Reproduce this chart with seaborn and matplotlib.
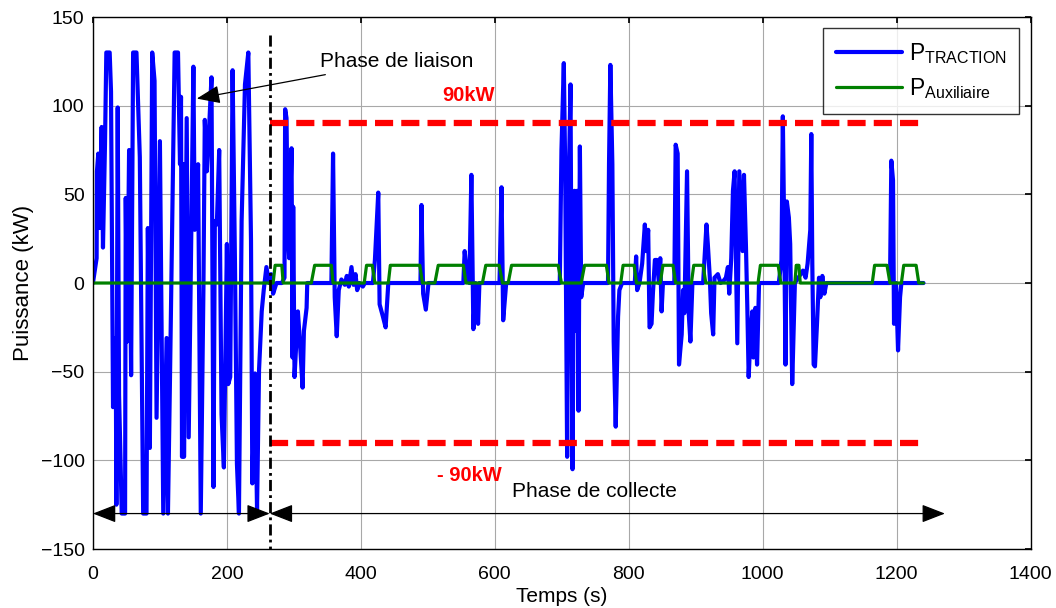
import numpy as np
import pandas as pd
import seaborn as sns
import matplotlib.pyplot as plt

# ==========================================
# DATA
# ==========================================

# phase de liaison, traction power (s, kW)
liaison_t = [0, 5.5, 6, 8, 10, 13, 15, 18, 20, 25, 27, 30, 34, 35, 37, 39, 43, 48, 49, 51,
             54, 57, 60, 65, 70, 75, 80, 82, 85, 88.5, 92, 95, 100, 105, 110, 112, 115, 122,
             127, 130, 131.5, 133, 135, 136, 140, 143, 147, 150, 152, 157, 161, 165, 167,
             170, 172, 177, 180, 182, 185, 188.5, 192, 195.5, 200, 202, 205, 208.5, 212,
             215, 218, 222, 227, 232, 236, 238, 242, 245, 248, 252, 255, 259, 263, 266, 268]
liaison_p = [0, 14, 63, 73, 31, 88, 20, 78, 130, 130, 108, -70, -31, -125, 99, -63, -130, -130, 48, -33,
             75, -52, 130, 130, 71, -130, -130, 31, -93, 130, 114, -76, 80, -130, -31, -130, -55, 130,
             130, 67, 105, -98, 67, -98, 93, -87, 31, 122, 30, 67, -130, -2, 92,
             63, 76, 116, -115, 35, 33, 75, -74, -104, 22, -57, -53, 120, 13,
             -102, -130, 35, 112, 130, 24, -113, -51, -128, -49, -16, -4, 9, 0, 5, 0]

# phase de collecte, traction power (s, kW)
collecte_t = [269, 274, 282, 286, 287, 289, 291, 293, 296.5, 298, 299, 301, 306, 309, 313, 315, 319, 320,
              356, 358.5, 361, 364, 367, 371, 376, 379, 382, 386, 389, 392, 394.5, 398, 403, 406,
              418, 421, 426, 428, 433, 437, 441, 489, 490.5, 493, 497, 501,
              553, 555, 558, 562, 565, 568, 571, 575, 577, 607, 610, 612.5, 617,
              697, 699.5, 703, 705, 708, 710, 713, 715, 716, 718, 719, 722, 723, 725, 727, 729, 732,
              769, 770.5, 772.5, 775.5, 777.5, 780.5, 784, 786, 790, 809, 811, 812.5,
              816, 820, 824, 826, 829, 831, 834, 836, 839, 842, 845, 847, 849, 851,
              868, 870, 873, 875, 879, 881, 883, 887, 889.5, 892, 895,
              911, 916, 918, 921, 923, 926, 928, 933, 937, 941, 945, 948, 950, 953, 955.5, 958,
              962, 965, 967, 970, 972, 975, 977, 979, 982, 984.5, 986, 989, 991.5, 994.5,
              1024, 1028, 1030, 1032, 1034, 1036, 1039, 1041, 1044, 1048,
              1060, 1064, 1067, 1071, 1072.5, 1074, 1076, 1078, 1081, 1084, 1086, 1089, 1092, 1095,
              1190, 1192, 1194.5, 1196, 1199, 1202, 1205, 1207, 1240]
collecte_p = [-6, 0, 0, 3, 98, 93, 28, 14, 76, -42, 43, -53, -16, -33, -59, -27, -14, 0,
              0, 73, -8, -30, -4, 2, -1, 4, -2, 9, -1, 5, -4, 0, -2, 0,
              0, 13, 51, -12, -19, -25, 0, 0, 44, -6, -15, 0,
              0, 18, 7, 0, 61, -26, 0, -23, 0, 0, 54, -21, 0,
              0, 75, 124, 67, -98, 48, 112, -46, -105, 11, 52, -27, 52, -72, 77, -8, 0,
              0, 67, 123, 67, -33, -81, -19, -4, 0, 0, 15, -4,
              0, 11, 33, 18, 30, -25, -23, -6, 13, 13, 0, 14, -16, 0,
              0, 78, 73, -46, -29, -4, -17, 63, -17, -33, 0,
              0, 33, 22, 3, -17, -29, 3, 5, 0, 1, 3, 9, -6, 14, 52, 63,
              -34, 63, 45, 18, 61, 20, -14, -53, -27, -16, -42, -14, -46, 0,
              0, 13, 94, 30, -46, 46, 37, 22, -57, 0,
              7, 3, 11, 30, 84, 11, -46, -47, -23, 3, -8, 4, -6, 0,
              0, 69, 58, -23, 0, -38, -8, 0, 0]

# auxiliary power (s, kW)
aux_t = [0, 269, 272, 282, 284, 326, 331, 356, 358.5, 405, 408.5, 417, 421,
         441, 444, 488, 492, 510.5, 515.5, 553, 557, 581.5, 586.5, 606.5, 611.5,
         620, 625, 694.5, 699.5, 729, 734, 766.5, 770.5, 788, 791.5, 808, 811.5,
         847, 851, 866, 870, 893.5, 897, 911, 915, 993, 996.5, 1023, 1027,
         1048, 1050, 1054, 1056, 1163.5, 1167, 1185.5, 1190, 1207, 1210.5, 1229, 1233, 1240]
aux_p = [0, 0, 10, 10, 0, 0, 10, 10, 0, 0, 10, 10, 0,
         0, 10, 10, 0, 0, 10, 10, 0, 0, 10, 10, 0,
         0, 10, 10, 0, 0, 10, 10, 0, 0, 10, 10, 0,
         0, 10, 10, 0, 0, 10, 10, 0, 0, 10, 10, 0,
         0, 10, 10, 0, 0, 10, 10, 0, 0, 10, 10, 0, 0]

limit_kw = 90
phase_split = 264
limit_end = 1242
collecte_end = 1272

x_ticks = [0, 200, 400, 600, 800, 1000, 1200, 1400]
y_ticks = [-150, -100, -50, 0, 50, 100, 150]

traction = pd.DataFrame({
    "t": liaison_t + collecte_t,
    "p": liaison_p + collecte_p
})
auxiliaire = pd.DataFrame({"t": aux_t, "p": aux_p})

# ==========================================
# STYLE
# ==========================================

sns.set_theme(style="white")
plt.rcParams["font.family"] = ["Liberation Sans", "DejaVu Sans"]
plt.rcParams["mathtext.fontset"] = "custom"
plt.rcParams["mathtext.rm"] = "Liberation Sans"
plt.rcParams["mathtext.it"] = "Liberation Sans"
plt.rcParams["text.color"] = "black"
plt.rcParams["axes.labelcolor"] = "black"

fig = plt.figure(figsize=(10.56, 6.08), dpi=100)
ax = fig.add_axes([0.088, 0.097, 0.888, 0.875])

# ==========================================
# PLOT
# ==========================================

sns.lineplot(
    data=traction, x="t", y="p",
    color="#0000ff", linewidth=3,
    estimator=None, sort=False, ax=ax,
    label=r"P$_{\mathrm{TRACTION}}$"
)

sns.lineplot(
    data=auxiliaire, x="t", y="p",
    color="#008000", linewidth=2.3,
    estimator=None, sort=False, ax=ax,
    label=r"P$_{\mathrm{Auxiliaire}}$"
)

# +/- 90 kW limits
for lvl in (limit_kw, -limit_kw):
    ax.plot([phase_split, limit_end], [lvl, lvl],
            color="red", linewidth=4.5, dashes=(2.9, 1.3))

# phase separator
ax.plot([phase_split, phase_split], [140, -150],
        color="black", linewidth=2, dashes=(4, 1.5, 1, 1.5))

# double arrows
arrow_kw = dict(arrowstyle="<|-|>,head_length=0.9,head_width=0.35",
                color="black", lw=0.9, mutation_scale=16, shrinkA=0, shrinkB=0)
ax.annotate("", xy=(0, -130), xytext=(phase_split, -130), arrowprops=arrow_kw)
ax.annotate("", xy=(phase_split, -130), xytext=(collecte_end, -130), arrowprops=arrow_kw)

# texts
ax.annotate("Phase de liaison", xy=(155, 104), xytext=(339, 125),
            fontsize=15, va="center", ha="left",
            arrowprops=dict(arrowstyle="-|>,head_length=0.9,head_width=0.35",
                            color="black", lw=0.9, mutation_scale=16,
                            shrinkA=2, shrinkB=0))
ax.text(560, 105.5, "90kW", color="red", fontsize=14.5, fontweight="bold",
        ha="center", va="center")
ax.text(562, -108.5, "- 90kW", color="red", fontsize=14.5, fontweight="bold",
        ha="center", va="center")
ax.text(625, -117.5, "Phase de collecte", fontsize=15, ha="left", va="center")

# axes
ax.set_xlim(0, 1400)
ax.set_ylim(-150, 150)
ax.set_xticks(x_ticks)
ax.set_yticks(y_ticks)
ax.grid(True, color="#a8a8a8", linewidth=0.8, linestyle="-")
ax.tick_params(direction="in", top=True, right=True, length=4,
               labelsize=14, color="black", labelcolor="black", pad=6)
ax.tick_params(axis="x", pad=12)
for sp in ax.spines.values():
    sp.set_color("black")
    sp.set_linewidth(1)

ax.set_xlabel("Temps (s)", fontsize=15, labelpad=3)
ax.set_ylabel("Puissance (kW)", fontsize=16, labelpad=5)

ax.legend(loc="upper right", bbox_to_anchor=(0.988, 0.979), borderaxespad=0,
          frameon=True, fancybox=False, edgecolor="black", fontsize=16.5,
          handlelength=2.9, handletextpad=0.3, borderpad=0.55, labelspacing=0.45)
ax.get_legend().get_frame().set_linewidth(1)

plt.savefig("out.png", dpi=100)
